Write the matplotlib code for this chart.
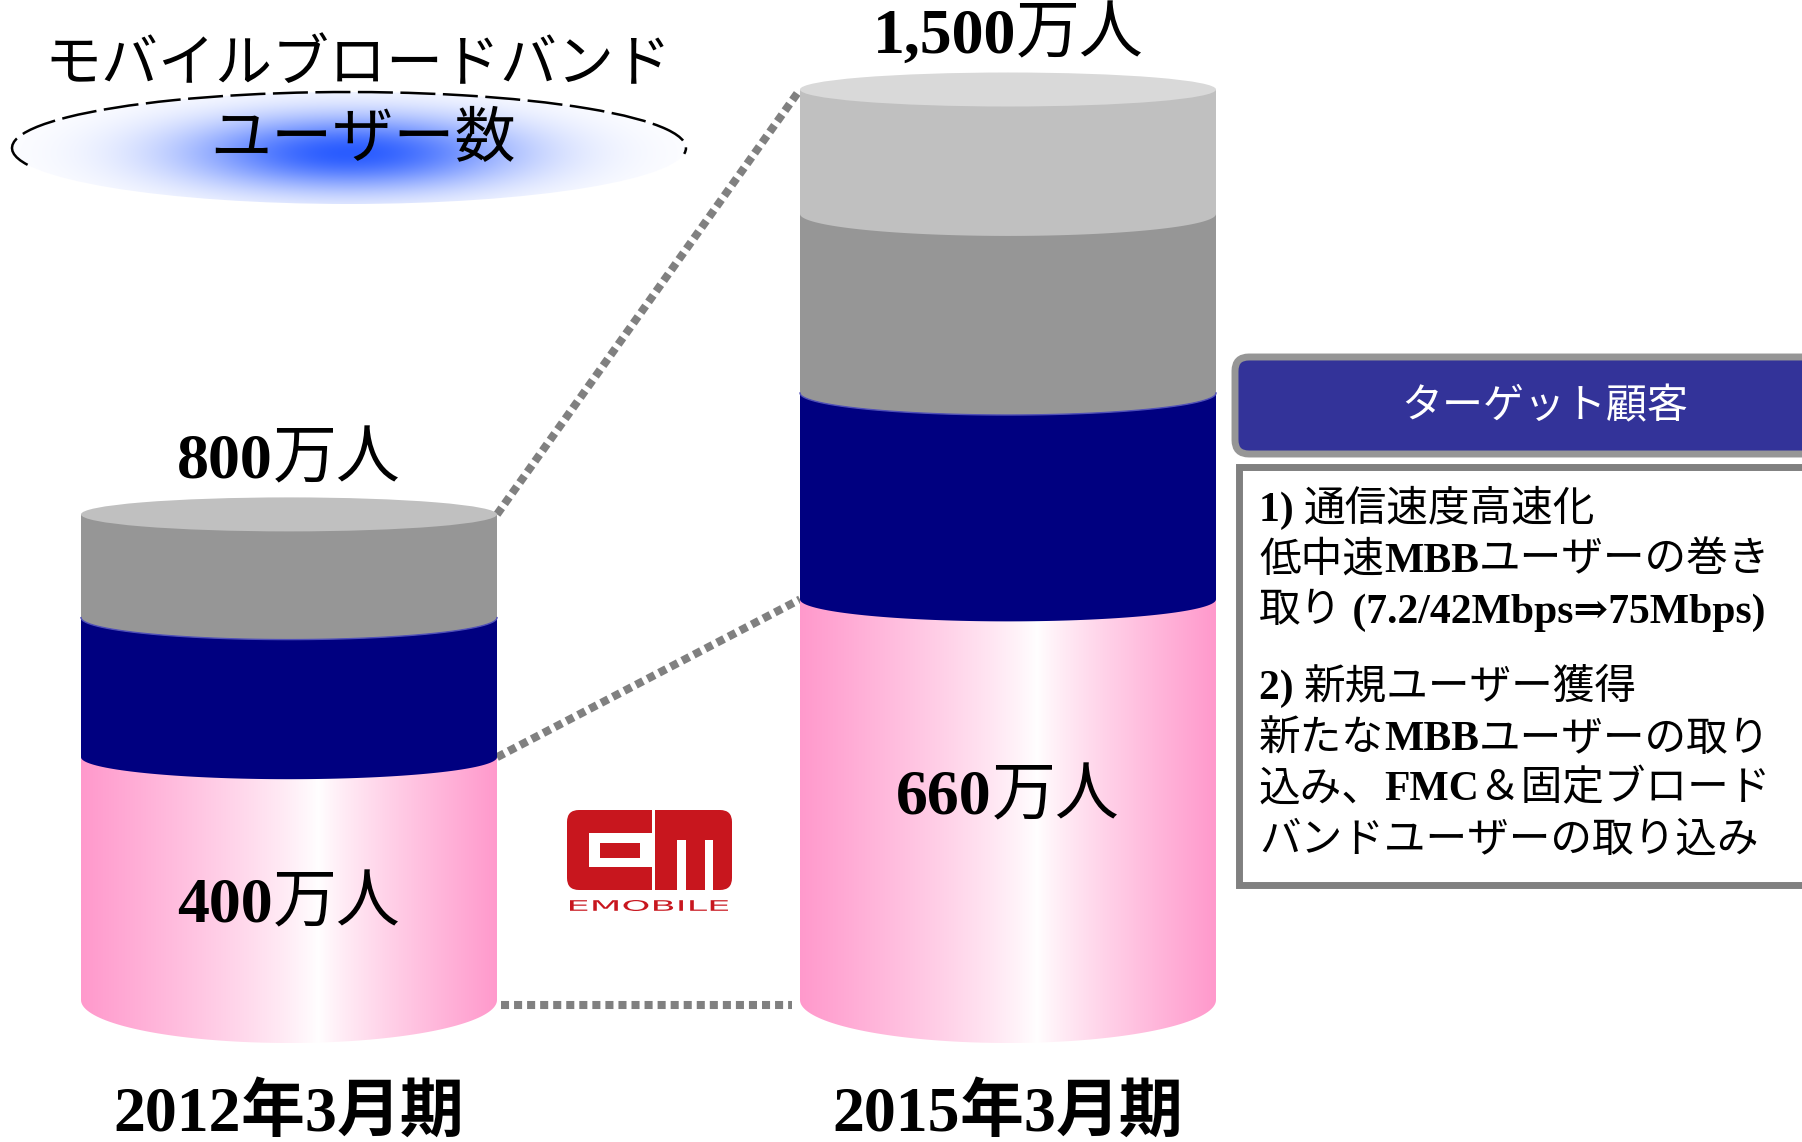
import numpy as np
import matplotlib
matplotlib.use("Agg")
import matplotlib.pyplot as plt
from matplotlib.patches import Polygon, Ellipse, FancyBboxPatch, Rectangle, Arc, PathPatch
from matplotlib.offsetbox import TextArea, HPacker, AnnotationBbox
from matplotlib.colors import to_rgb
from matplotlib.textpath import TextPath
from matplotlib.font_manager import FontProperties
from matplotlib.transforms import Affine2D

# ---------------- data ----------------
periods = ["2012年3月期", "2015年3月期"]
totals = [800, 1500]                 # 万人
base_users = [400, 660]              # bottom (pink) layer, 万人
mid_users = [230, 340]               # navy layer
upper_users = [170, 295]             # grey layer
top_users = [0, 205]                 # light grey layer
base_label_pos = [0.40, 0.51]        # label height as a share of the pink layer

title_lines = ["モバイルブロードバンド", "ユーザー数"]
panel_title = "ターゲット顧客"
panel_lines = [
    "1) 通信速度高速化",
    "低中速MBBユーザーの巻き",
    "取り (7.2/42Mbps⇒75Mbps)",
    "2) 新規ユーザー獲得",
    "新たなMBBユーザーの取り",
    "込み、FMC＆固定ブロード",
    "バンドユーザーの取り込み",
]

# ---------------- style ----------------
SERIF = ["Liberation Serif", "DejaVu Serif", "Noto Sans CJK JP"]
JP = ["Noto Sans CJK JP", "DejaVu Sans"]
PINK = "#ff99cc"
layer_colors = [None, "#000080", "#969696", "#c0c0c0"]
cap_colors = {"#969696": "#c0c0c0", "#c0c0c0": "#d9d9d9"}

W, H, DPI = 1802, 1142, 100
BASE_ROW = 1000        # pixel row where the value axis starts
UNIT_PX = 0.607        # pixels per 万人
X0_PX, XSTEP_PX = 289, 719

fig = plt.figure(figsize=(W / DPI, H / DPI), dpi=DPI)
bg = fig.add_axes([0, 0, 1, 1], zorder=0)
bg.set_xlim(0, W)
bg.set_ylim(H, 0)
bg.axis("off")

ax = fig.add_axes([0, 0, 1, 1], zorder=1)
ax.axis("off")
ax.patch.set_visible(False)


def py(p):
    return p / UNIT_PX


def pxx(p):
    return p / XSTEP_PX


HALF_W = pxx(208)


def runs(s):
    """Split a string into latin / japanese runs."""
    out = []
    for ch in s:
        kind = "lat" if ord(ch) < 0x3000 else "jp"
        if out and out[-1][1] == kind:
            out[-1][0] += ch
        else:
            out.append([ch, kind])
    return out


def mixed_text(axes, x, y, s, size, align=(0.5, 0.5), color="black",
               jp_weight="normal", lat_weight="bold"):
    children = []
    for txt, kind in runs(s):
        if kind == "lat":
            props = dict(family=SERIF, weight=lat_weight, size=size, color=color)
        else:
            props = dict(family=JP, weight=jp_weight, size=size, color=color)
        children.append(TextArea(txt, textprops=props))
    pack = HPacker(children=children, align="baseline", pad=0, sep=0)
    ab = AnnotationBbox(pack, (x, y), xycoords="data", box_alignment=align,
                        frameon=False, pad=0, annotation_clip=False, zorder=20)
    axes.add_artist(ab)
    return ab


# ---------------- cylinders ----------------
def front_arc(xc, y, depth, n=90):
    t = np.linspace(np.pi, 0, n)
    return np.column_stack([xc + HALF_W * np.cos(t), y - depth * np.sin(t)])


tt = np.linspace(0, 1, 300)
centre = 0.57
wgt = np.where(tt < centre, (centre - tt) / centre, (tt - centre) / (1 - centre))
wgt = np.clip(wgt, 0, 1) ** 0.85
pink_grad = np.ones(3) * (1 - wgt[:, None]) + np.array(to_rgb(PINK)) * wgt[:, None]

z = 2
for i in range(len(periods)):
    xc = i
    layers = [base_users[i], mid_users[i], upper_users[i], top_users[i]]
    cum = 0
    last_color = None
    for k, v in enumerate(layers):
        if v <= 0:
            continue
        lo, hi = cum, cum + v
        depth = py(43) if lo == 0 else py(22)
        pts = [(xc - HALF_W, hi)] + [tuple(p) for p in front_arc(xc, lo, depth)] + [(xc + HALF_W, hi)]
        if layer_colors[k] is None:
            poly = Polygon(pts, closed=True, fc="none", ec="none", zorder=z)
            ax.add_patch(poly)
            im = ax.imshow(pink_grad[None, :, :], extent=(xc - HALF_W, xc + HALF_W, lo - depth, hi),
                           aspect="auto", interpolation="bilinear", zorder=z)
            im.set_clip_path(poly)
        else:
            ax.add_patch(Polygon(pts, closed=True, fc=layer_colors[k], ec="none", zorder=z))
            if k == 2 and layers[1] > 0:
                a = front_arc(xc, lo, depth)
                ax.plot(a[:, 0], a[:, 1], color="#5050b8", lw=1.0, zorder=z + 0.5)
            last_color = layer_colors[k]
        z += 1
        cum = hi
    ax.add_patch(Ellipse((xc, cum), 2 * HALF_W, 2 * py(17),
                         fc=cap_colors.get(last_color, "#c0c0c0"), ec="none", zorder=z))
    z += 1

    # labels
    mixed_text(ax, xc, totals[i] + py(17 + 5), f"{totals[i]:,}万人", 46, align=(0.5, 0))
    mixed_text(ax, xc, base_users[i] * base_label_pos[i], f"{base_users[i]:,}万人", 46)
    mixed_text(ax, xc, -py(112), periods[i], 46, jp_weight="bold")

# dotted connectors between the two cylinders
dot = dict(color="#808080", lw=5.8, linestyle=(0, (1.0, 0.62)),
           dash_capstyle="butt", solid_capstyle="butt", zorder=1)
ax.plot([0 + HALF_W, 1 - HALF_W], [totals[0], totals[1]], **dot)
ax.plot([0 + HALF_W, 1 - HALF_W], [base_users[0], base_users[1]], **dot)
ax.plot([0 + HALF_W + pxx(4), 1 - HALF_W - pxx(8)], [-py(5), -py(5)], **dot)

ax.set_xlim(-X0_PX / XSTEP_PX, (W - X0_PX) / XSTEP_PX)
ax.set_ylim(-(H - BASE_ROW) / UNIT_PX, BASE_ROW / UNIT_PX)

# ---------------- title with glowing ellipse ----------------
ecx, ecy, ea, eb = 349, 148, 337, 56
gx = np.linspace(ecx - ea, ecx + ea, 400)
gy = np.linspace(ecy - eb, ecy + eb, 120)
GX, GY = np.meshgrid(gx, gy)
glow = np.exp(-((GX - ecx) / 165.0) ** 2 - ((GY - 153) / 38.0) ** 2)
blue = np.array(to_rgb("#2a5cff"))
glow_img = np.ones(3) * (1 - glow[..., None]) + blue * glow[..., None]
ell = Ellipse((ecx, ecy), 2 * ea, 2 * eb, fc="none", ec="none")
bg.add_patch(ell)
gim = bg.imshow(glow_img, extent=(ecx - ea, ecx + ea, ecy + eb, ecy - eb), origin="upper",
                aspect="auto", interpolation="bilinear", zorder=1)
gim.set_clip_path(ell)
bg.add_patch(Arc((ecx, ecy), 2 * ea, 2 * eb, theta1=177, theta2=361, color="black",
                 lw=1.8, linestyle=(0, (14, 3)), zorder=2))
bg.text(358, 65, title_lines[0], family=JP, size=41, ha="center", va="center", zorder=3)
bg.text(363, 140, title_lines[1], family=JP, size=44, ha="center", va="center", zorder=3)

# ---------------- logo ----------------
RED = "#c8161e"
bg.add_patch(FancyBboxPatch((567, 810), 165, 80, boxstyle="round,pad=0,rounding_size=12",
                            fc=RED, ec="none", zorder=2))
for (x0, y0, w, h) in [(589, 833, 64, 34), (652, 806, 3, 88), (677, 840, 9, 54), (705, 840, 8, 54)]:
    bg.add_patch(Rectangle((x0, y0), w, h, fc="white", ec="none", zorder=3))
bg.add_patch(Rectangle((600, 843), 40, 15, fc=RED, ec="none", zorder=4))
wordmark = TextPath((0, 0), "EMOBILE", size=20, prop=FontProperties(family="DejaVu Sans"))
wext = wordmark.get_extents()
wtr = (Affine2D().translate(-wext.x0, -wext.y0)
       .scale(158.0 / wext.width, -11.0 / wext.height).translate(570, 911))
bg.add_patch(PathPatch(wtr.transform_path(wordmark), fc=RED, ec="none", zorder=3))

# ---------------- target panel ----------------
bg.add_patch(FancyBboxPatch((1235, 357), 620, 97, boxstyle="round,pad=0,rounding_size=14",
                            fc="#333399", ec="#969696", lw=5, zorder=2))
bg.text(1545, 407, panel_title, family=JP, size=29.5, color="white",
        ha="center", va="center", zorder=3)
bg.add_patch(Rectangle((1238.5, 467), 620, 418, fc="white", ec="#808080", lw=5, zorder=2))
line_rows = [509, 560, 611, 687, 739, 789, 840]
for row, line in zip(line_rows, panel_lines):
    mixed_text(bg, 1259, row, line, 30, align=(0, 0.5))

fig.savefig("out.png", dpi=DPI, facecolor="white")
